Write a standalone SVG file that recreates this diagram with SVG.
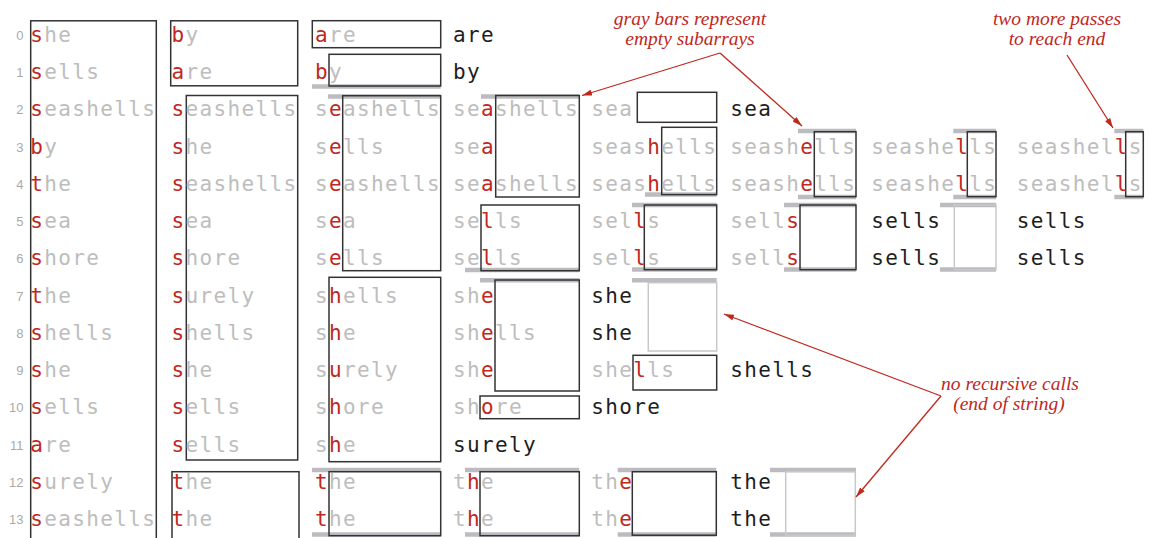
<svg xmlns="http://www.w3.org/2000/svg" width="1149" height="538" viewBox="0 0 1149 538">
<defs>
<style>
.t{font-family:"DejaVu Sans Mono",monospace;font-size:21px;letter-spacing:1.36px}
.g{fill:#bdbdbd}.r{fill:#c0281e}.k{fill:#1e1e1e}
.bx{fill:none;stroke:#333;stroke-width:1.5}
.lb{fill:none;stroke:#c8c8c8;stroke-width:1.5}
.bar{stroke:#bcbcc0;stroke-width:4.5}
.n{font-family:"Liberation Sans",sans-serif;font-size:13px;fill:#aaa;text-anchor:end}
.lbl{font-family:"Liberation Serif",serif;font-style:italic;font-size:19.5px;fill:#c0281e;text-anchor:middle}
.arr{stroke:#c0281e;stroke-width:1.3;fill:none;marker-end:url(#ah)}
</style>
<marker id="ah" viewBox="0 0 10 6" refX="10" refY="3" markerWidth="10" markerHeight="6" markerUnits="userSpaceOnUse" orient="auto">
<path d="M0,0 L10,3 L0,6 z" fill="#c0281e"/>
</marker>
</defs>
<rect width="1149" height="538" fill="#fff"/>

<g id="rownums">
<text class="n" x="23.5" y="39.8">0</text>
<text class="n" x="23.5" y="77">1</text>
<text class="n" x="23.5" y="114.3">2</text>
<text class="n" x="23.5" y="151.5">3</text>
<text class="n" x="23.5" y="188.8">4</text>
<text class="n" x="23.5" y="226">5</text>
<text class="n" x="23.5" y="263.3">6</text>
<text class="n" x="23.5" y="300.5">7</text>
<text class="n" x="23.5" y="337.8">8</text>
<text class="n" x="23.5" y="375">9</text>
<text class="n" x="23.5" y="412.3">10</text>
<text class="n" x="23.5" y="449.5">11</text>
<text class="n" x="23.5" y="486.8">12</text>
<text class="n" x="23.5" y="524">13</text>
</g>

<g id="col0">
<rect class="bx" x="30.7" y="20.8" width="125.6" height="530"/>
<text class="t" x="30.3" y="41.8"><tspan class="r">s</tspan><tspan class="g">he</tspan></text>
<text class="t" x="30.3" y="79"><tspan class="r">s</tspan><tspan class="g">ells</tspan></text>
<text class="t" x="30.3" y="116.3"><tspan class="r">s</tspan><tspan class="g">eashells</tspan></text>
<text class="t" x="30.3" y="153.5"><tspan class="r">b</tspan><tspan class="g">y</tspan></text>
<text class="t" x="30.3" y="190.8"><tspan class="r">t</tspan><tspan class="g">he</tspan></text>
<text class="t" x="30.3" y="228"><tspan class="r">s</tspan><tspan class="g">ea</tspan></text>
<text class="t" x="30.3" y="265.3"><tspan class="r">s</tspan><tspan class="g">hore</tspan></text>
<text class="t" x="30.3" y="302.5"><tspan class="r">t</tspan><tspan class="g">he</tspan></text>
<text class="t" x="30.3" y="339.8"><tspan class="r">s</tspan><tspan class="g">hells</tspan></text>
<text class="t" x="30.3" y="377"><tspan class="r">s</tspan><tspan class="g">he</tspan></text>
<text class="t" x="30.3" y="414.3"><tspan class="r">s</tspan><tspan class="g">ells</tspan></text>
<text class="t" x="30.3" y="451.5"><tspan class="r">a</tspan><tspan class="g">re</tspan></text>
<text class="t" x="30.3" y="488.8"><tspan class="r">s</tspan><tspan class="g">urely</tspan></text>
<text class="t" x="30.3" y="526"><tspan class="r">s</tspan><tspan class="g">eashells</tspan></text>
</g>

<g id="col1">
<rect class="bx" x="170.7" y="20.8" width="127" height="65"/>
<rect class="bx" x="186.3" y="95.5" width="111.4" height="364.5"/>
<rect class="bx" x="172" y="471.7" width="127" height="80"/>
<text class="t" x="171.5" y="41.8"><tspan class="r">b</tspan><tspan class="g">y</tspan></text>
<text class="t" x="171.5" y="79"><tspan class="r">a</tspan><tspan class="g">re</tspan></text>
<text class="t" x="171.5" y="116.3"><tspan class="r">s</tspan><tspan class="g">eashells</tspan></text>
<text class="t" x="171.5" y="153.5"><tspan class="r">s</tspan><tspan class="g">he</tspan></text>
<text class="t" x="171.5" y="190.8"><tspan class="r">s</tspan><tspan class="g">eashells</tspan></text>
<text class="t" x="171.5" y="228"><tspan class="r">s</tspan><tspan class="g">ea</tspan></text>
<text class="t" x="171.5" y="265.3"><tspan class="r">s</tspan><tspan class="g">hore</tspan></text>
<text class="t" x="171.5" y="302.5"><tspan class="r">s</tspan><tspan class="g">urely</tspan></text>
<text class="t" x="171.5" y="339.8"><tspan class="r">s</tspan><tspan class="g">hells</tspan></text>
<text class="t" x="171.5" y="377"><tspan class="r">s</tspan><tspan class="g">he</tspan></text>
<text class="t" x="171.5" y="414.3"><tspan class="r">s</tspan><tspan class="g">ells</tspan></text>
<text class="t" x="171.5" y="451.5"><tspan class="r">s</tspan><tspan class="g">ells</tspan></text>
<text class="t" x="171.5" y="488.8"><tspan class="r">t</tspan><tspan class="g">he</tspan></text>
<text class="t" x="171.5" y="526"><tspan class="r">t</tspan><tspan class="g">he</tspan></text>
</g>

<g id="col2">
<line class="bar" x1="312" y1="86.5" x2="440.7" y2="86.5"/>
<line class="bar" x1="328" y1="96.5" x2="440.7" y2="96.5"/>
<line class="bar" x1="312" y1="470" x2="440.7" y2="470"/>
<line class="bar" x1="312" y1="534.5" x2="440.7" y2="534.5"/>
<rect class="bx" x="312.3" y="20.7" width="128.4" height="27"/>
<rect class="bx" x="329" y="54.3" width="111.7" height="31.7"/>
<rect class="bx" x="342.7" y="95.7" width="98" height="175"/>
<rect class="bx" x="329" y="277.3" width="111.7" height="184.4"/>
<rect class="bx" x="329" y="471.7" width="111.7" height="64"/>
<text class="t" x="315" y="41.8"><tspan class="r">a</tspan><tspan class="g">re</tspan></text>
<text class="t" x="315" y="79"><tspan class="r">b</tspan><tspan class="g">y</tspan></text>
<text class="t" x="315" y="116.3"><tspan class="g">s</tspan><tspan class="r">e</tspan><tspan class="g">ashells</tspan></text>
<text class="t" x="315" y="153.5"><tspan class="g">s</tspan><tspan class="r">e</tspan><tspan class="g">lls</tspan></text>
<text class="t" x="315" y="190.8"><tspan class="g">s</tspan><tspan class="r">e</tspan><tspan class="g">ashells</tspan></text>
<text class="t" x="315" y="228"><tspan class="g">s</tspan><tspan class="r">e</tspan><tspan class="g">a</tspan></text>
<text class="t" x="315" y="265.3"><tspan class="g">s</tspan><tspan class="r">e</tspan><tspan class="g">lls</tspan></text>
<text class="t" x="315" y="302.5"><tspan class="g">s</tspan><tspan class="r">h</tspan><tspan class="g">ells</tspan></text>
<text class="t" x="315" y="339.8"><tspan class="g">s</tspan><tspan class="r">h</tspan><tspan class="g">e</tspan></text>
<text class="t" x="315" y="377"><tspan class="g">s</tspan><tspan class="r">u</tspan><tspan class="g">rely</tspan></text>
<text class="t" x="315" y="414.3"><tspan class="g">s</tspan><tspan class="r">h</tspan><tspan class="g">ore</tspan></text>
<text class="t" x="315" y="451.5"><tspan class="g">s</tspan><tspan class="r">h</tspan><tspan class="g">e</tspan></text>
<text class="t" x="315" y="488.8"><tspan class="r">t</tspan><tspan class="g">he</tspan></text>
<text class="t" x="315" y="526"><tspan class="r">t</tspan><tspan class="g">he</tspan></text>
</g>

<g id="col3">
<line class="bar" x1="481" y1="96.5" x2="579.3" y2="96.5"/>
<line class="bar" x1="465" y1="270" x2="579.3" y2="270"/>
<line class="bar" x1="480" y1="280.3" x2="579.3" y2="280.3"/>
<line class="bar" x1="465" y1="470" x2="579.3" y2="470"/>
<line class="bar" x1="465" y1="534.5" x2="579.3" y2="534.5"/>
<rect class="bx" x="495.7" y="95.5" width="83.6" height="101.5"/>
<rect class="bx" x="481" y="205" width="98.3" height="65.7"/>
<rect class="bx" x="495" y="280" width="84.3" height="111"/>
<rect class="bx" x="480" y="396" width="99.3" height="22.7"/>
<rect class="bx" x="480" y="471.7" width="99.3" height="64"/>
<text class="t k" x="453" y="41.8">are</text>
<text class="t k" x="453" y="79">by</text>
<text class="t" x="453" y="116.3"><tspan class="g">se</tspan><tspan class="r">a</tspan><tspan class="g">shells</tspan></text>
<text class="t" x="453" y="153.5"><tspan class="g">se</tspan><tspan class="r">a</tspan></text>
<text class="t" x="453" y="190.8"><tspan class="g">se</tspan><tspan class="r">a</tspan><tspan class="g">shells</tspan></text>
<text class="t" x="453" y="228"><tspan class="g">se</tspan><tspan class="r">l</tspan><tspan class="g">ls</tspan></text>
<text class="t" x="453" y="265.3"><tspan class="g">se</tspan><tspan class="r">l</tspan><tspan class="g">ls</tspan></text>
<text class="t" x="453" y="302.5"><tspan class="g">sh</tspan><tspan class="r">e</tspan></text>
<text class="t" x="453" y="339.8"><tspan class="g">sh</tspan><tspan class="r">e</tspan><tspan class="g">lls</tspan></text>
<text class="t" x="453" y="377"><tspan class="g">sh</tspan><tspan class="r">e</tspan></text>
<text class="t" x="453" y="414.3"><tspan class="g">sh</tspan><tspan class="r">o</tspan><tspan class="g">re</tspan></text>
<text class="t k" x="453" y="451.5">surely</text>
<text class="t" x="453" y="488.8"><tspan class="g">t</tspan><tspan class="r">h</tspan><tspan class="g">e</tspan></text>
<text class="t" x="453" y="526"><tspan class="g">t</tspan><tspan class="r">h</tspan><tspan class="g">e</tspan></text>
</g>

<g id="col4">
<line class="bar" x1="645" y1="194.5" x2="716.7" y2="194.5"/>
<line class="bar" x1="632" y1="205" x2="716.7" y2="205"/>
<line class="bar" x1="632" y1="269.5" x2="716.7" y2="269.5"/>
<line class="bar" x1="632" y1="280.3" x2="716.7" y2="280.3"/>
<line class="bar" x1="617.7" y1="470" x2="716.3" y2="470"/>
<line class="bar" x1="617.7" y1="534.5" x2="716.3" y2="534.5"/>
<rect class="bx" x="637.3" y="92.3" width="79.4" height="30"/>
<rect class="bx" x="661.7" y="127.3" width="55" height="67.3"/>
<rect class="bx" x="644.3" y="205" width="72.4" height="64.7"/>
<rect class="lb" x="648.3" y="282.7" width="68.4" height="68.3"/>
<rect class="bx" x="633" y="355.3" width="83.7" height="34.7"/>
<rect class="bx" x="632.3" y="471.7" width="84" height="63.5"/>
<text class="t g" x="591.3" y="116.3">sea</text>
<text class="t" x="591.3" y="153.5"><tspan class="g">seas</tspan><tspan class="r">h</tspan><tspan class="g">ells</tspan></text>
<text class="t" x="591.3" y="190.8"><tspan class="g">seas</tspan><tspan class="r">h</tspan><tspan class="g">ells</tspan></text>
<text class="t" x="591.3" y="228"><tspan class="g">sel</tspan><tspan class="r">l</tspan><tspan class="g">s</tspan></text>
<text class="t" x="591.3" y="265.3"><tspan class="g">sel</tspan><tspan class="r">l</tspan><tspan class="g">s</tspan></text>
<text class="t k" x="591.3" y="302.5">she</text>
<text class="t k" x="591.3" y="339.8">she</text>
<text class="t" x="591.3" y="377"><tspan class="g">she</tspan><tspan class="r">l</tspan><tspan class="g">ls</tspan></text>
<text class="t k" x="591.3" y="414.3">shore</text>
<text class="t" x="591.3" y="488.8"><tspan class="g">th</tspan><tspan class="r">e</tspan></text>
<text class="t" x="591.3" y="526"><tspan class="g">th</tspan><tspan class="r">e</tspan></text>
</g>

<g id="col5">
<line class="bar" x1="798" y1="131" x2="856" y2="131"/>
<line class="bar" x1="798" y1="197" x2="856" y2="197"/>
<line class="bar" x1="784" y1="205" x2="856" y2="205"/>
<line class="bar" x1="784" y1="269.5" x2="856" y2="269.5"/>
<line class="bar" x1="770" y1="470" x2="856" y2="470"/>
<line class="bar" x1="770" y1="534.5" x2="856" y2="534.5"/>
<rect class="bx" x="814.3" y="131.7" width="41.7" height="65"/>
<rect class="bx" x="800" y="205" width="56" height="64.7"/>
<rect class="lb" x="785.7" y="471.7" width="69.6" height="63.5"/>
<text class="t k" x="730.3" y="116.3">sea</text>
<text class="t" x="730.3" y="153.5"><tspan class="g">seash</tspan><tspan class="r">e</tspan><tspan class="g">lls</tspan></text>
<text class="t" x="730.3" y="190.8"><tspan class="g">seash</tspan><tspan class="r">e</tspan><tspan class="g">lls</tspan></text>
<text class="t" x="730.3" y="228"><tspan class="g">sell</tspan><tspan class="r">s</tspan></text>
<text class="t" x="730.3" y="265.3"><tspan class="g">sell</tspan><tspan class="r">s</tspan></text>
<text class="t k" x="730.3" y="377">shells</text>
<text class="t k" x="730.3" y="488.8">the</text>
<text class="t k" x="730.3" y="526">the</text>
</g>

<g id="col6">
<line class="bar" x1="953.3" y1="131" x2="996" y2="131"/>
<line class="bar" x1="953.3" y1="197" x2="996" y2="197"/>
<line class="bar" x1="940" y1="205" x2="996" y2="205"/>
<line class="bar" x1="940" y1="269.5" x2="996" y2="269.5"/>
<rect class="bx" x="967.3" y="131.7" width="28.7" height="65"/>
<rect class="lb" x="954.3" y="205" width="41.7" height="64.7"/>
<text class="t" x="871.2" y="153.5"><tspan class="g">seashe</tspan><tspan class="r">l</tspan><tspan class="g">ls</tspan></text>
<text class="t" x="871.2" y="190.8"><tspan class="g">seashe</tspan><tspan class="r">l</tspan><tspan class="g">ls</tspan></text>
<text class="t k" x="871.2" y="228">sells</text>
<text class="t k" x="871.2" y="265.3">sells</text>
</g>

<g id="col7">
<line class="bar" x1="1114.3" y1="131" x2="1143.3" y2="131"/>
<line class="bar" x1="1114.3" y1="197" x2="1143.3" y2="197"/>
<rect class="bx" x="1125.7" y="131.7" width="17.6" height="65"/>
<text class="t" x="1016.8" y="153.5"><tspan class="g">seashel</tspan><tspan class="r">l</tspan><tspan class="g">s</tspan></text>
<text class="t" x="1016.8" y="190.8"><tspan class="g">seashel</tspan><tspan class="r">l</tspan><tspan class="g">s</tspan></text>
<text class="t k" x="1016.8" y="228">sells</text>
<text class="t k" x="1016.8" y="265.3">sells</text>
</g>

<g id="label-graybars">
<text class="lbl" x="690" y="25">gray bars represent</text>
<text class="lbl" x="690" y="44.5">empty subarrays</text>
</g>
<g id="label-twomore">
<text class="lbl" x="1057" y="25">two more passes</text>
<text class="lbl" x="1057" y="45">to reach end</text>
</g>
<g id="label-norecursive">
<text class="lbl" x="1010" y="390">no recursive calls</text>
<text class="lbl" x="1009" y="410">(end of string)</text>
</g>

<g id="connectors">
<line class="arr" x1="720" y1="53" x2="582" y2="95.5"/>
<line class="arr" x1="720" y1="53" x2="802" y2="126"/>
<line class="arr" x1="1067" y1="55" x2="1113" y2="128"/>
<line class="arr" x1="941" y1="396" x2="724" y2="314"/>
<line class="arr" x1="941" y1="396" x2="856" y2="497"/>
</g>
</svg>
